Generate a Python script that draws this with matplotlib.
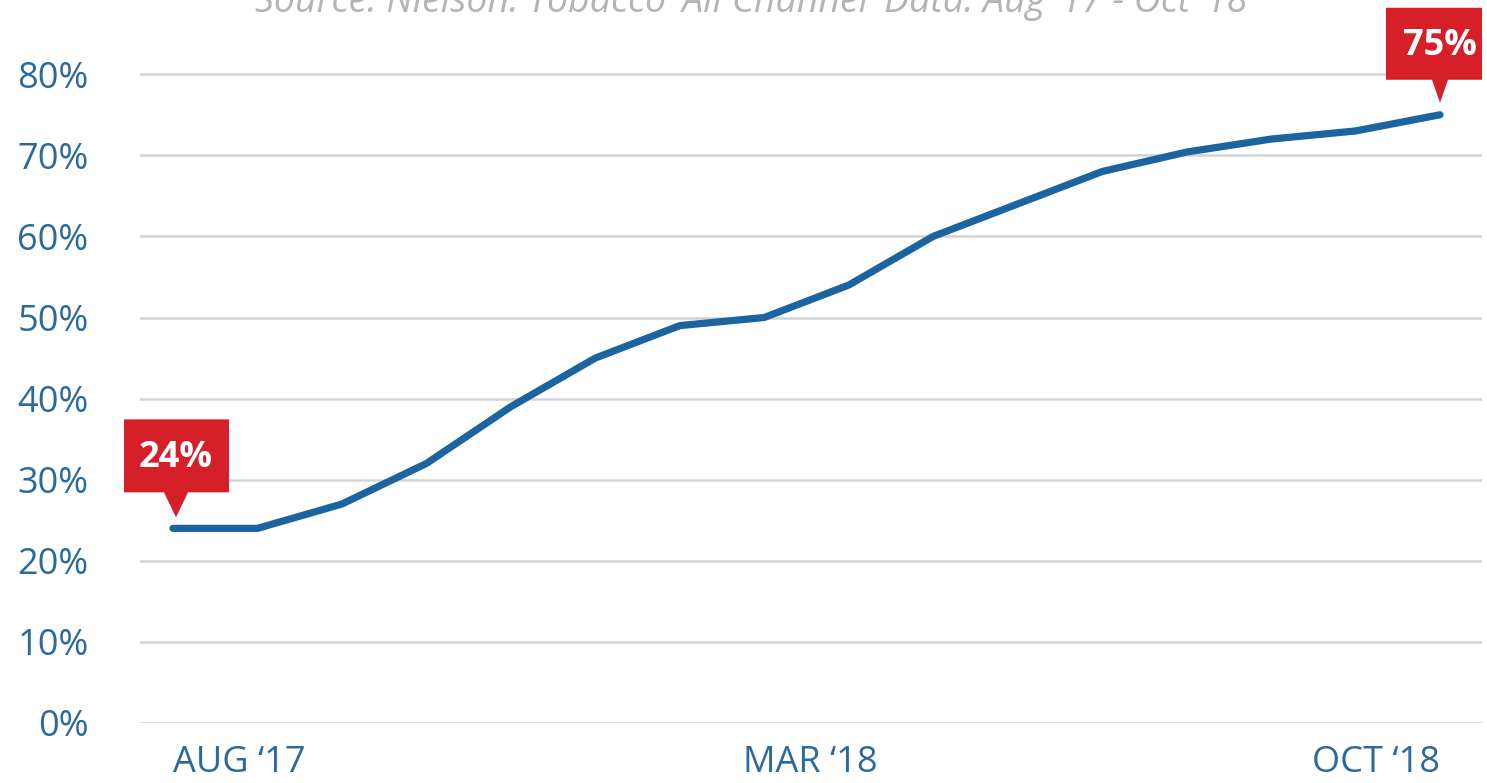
import matplotlib.pyplot as plt
import matplotlib.transforms as mtransforms
from matplotlib.patches import Polygon

# monthly share, Aug '17 .. Oct '18
share = [24, 24, 27, 32, 39, 45, 49, 50, 54, 60, 64, 68, 70.4, 72, 73, 75]
x = list(range(len(share)))
tick_pos = [0, 7.55, 15]
tick_labels = ["AUG \u201817", "MAR \u201818", "OCT \u201818"]
y_ticks = [0, 10, 20, 30, 40, 50, 60, 70, 80]
source = "Source: Nielson: Tobacco \u2018All Channel\u2019 Data: Aug \u201817 - Oct \u201818"

blue = "#1c64a0"
label_blue = "#2b6a9b"
red = "#d52029"
font = "Open Sans"

fig = plt.figure(figsize=(14.87, 7.83), dpi=100)
ax = fig.add_axes([140 / 1487, 60 / 783, 1342 / 1487, 690 / 783])
ax.set_xlim(-33 / 84.47, 15 + 42 / 84.47)
ax.set_ylim(0, 690 / 8.11)

ax.plot(x, share, color=blue, lw=5.2, solid_capstyle="round", solid_joinstyle="round", zorder=3)

ax.set_yticks(y_ticks)
ax.set_yticklabels([f"{v}%" for v in y_ticks], fontsize=26, color=label_blue, family=font)
ax.set_xticks(tick_pos)
ax.set_xticklabels(tick_labels, fontsize=26, color=label_blue, family=font)
xl = ax.get_xticklabels()
xl[0].set_ha("left")
xl[2].set_ha("right")
ax.tick_params(axis="both", length=0)
ax.tick_params(axis="y", pad=37)
ax.tick_params(axis="x", pad=16)
for s in ax.spines.values():
    s.set_visible(False)
ax.grid(axis="y", color="#d3d3d3", lw=1.8)
ax.set_axisbelow(True)


def callout(i, box, tip, text_off):
    # box/tip in pixels relative to the data point
    l, r, b, t = box
    tx, ty, bl, br = tip
    pts = [(l, b), (bl, b), (tx, ty), (br, b), (r, b), (r, t), (l, t)]
    pts = [(px / 100, py / 100) for px, py in pts]
    tr = fig.dpi_scale_trans + mtransforms.ScaledTranslation(x[i], share[i], ax.transData)
    ax.add_patch(Polygon(pts, closed=True, transform=tr, facecolor=red, edgecolor="none",
                         clip_on=False, zorder=5))
    ax.text(text_off[0] / 100, text_off[1] / 100, f"{share[i]:.0f}%", transform=tr,
            ha="center", va="center", color="white", fontsize=26, fontweight="bold",
            family=font, zorder=6, clip_on=False)


callout(0, (-49, 56, 36, 109), (3, 11, -9, 15), (3, 70))
callout(len(share) - 1, (-54, 42, 35, 107), (0, 12, -8, 8), (0, 69))

fig.text(751 / 1487, 1 - 2 / 783, source, ha="center", va="center", fontsize=27,
         style="italic", color="#b4b4b4", family=font)

fig.savefig("out.png", dpi=100)
